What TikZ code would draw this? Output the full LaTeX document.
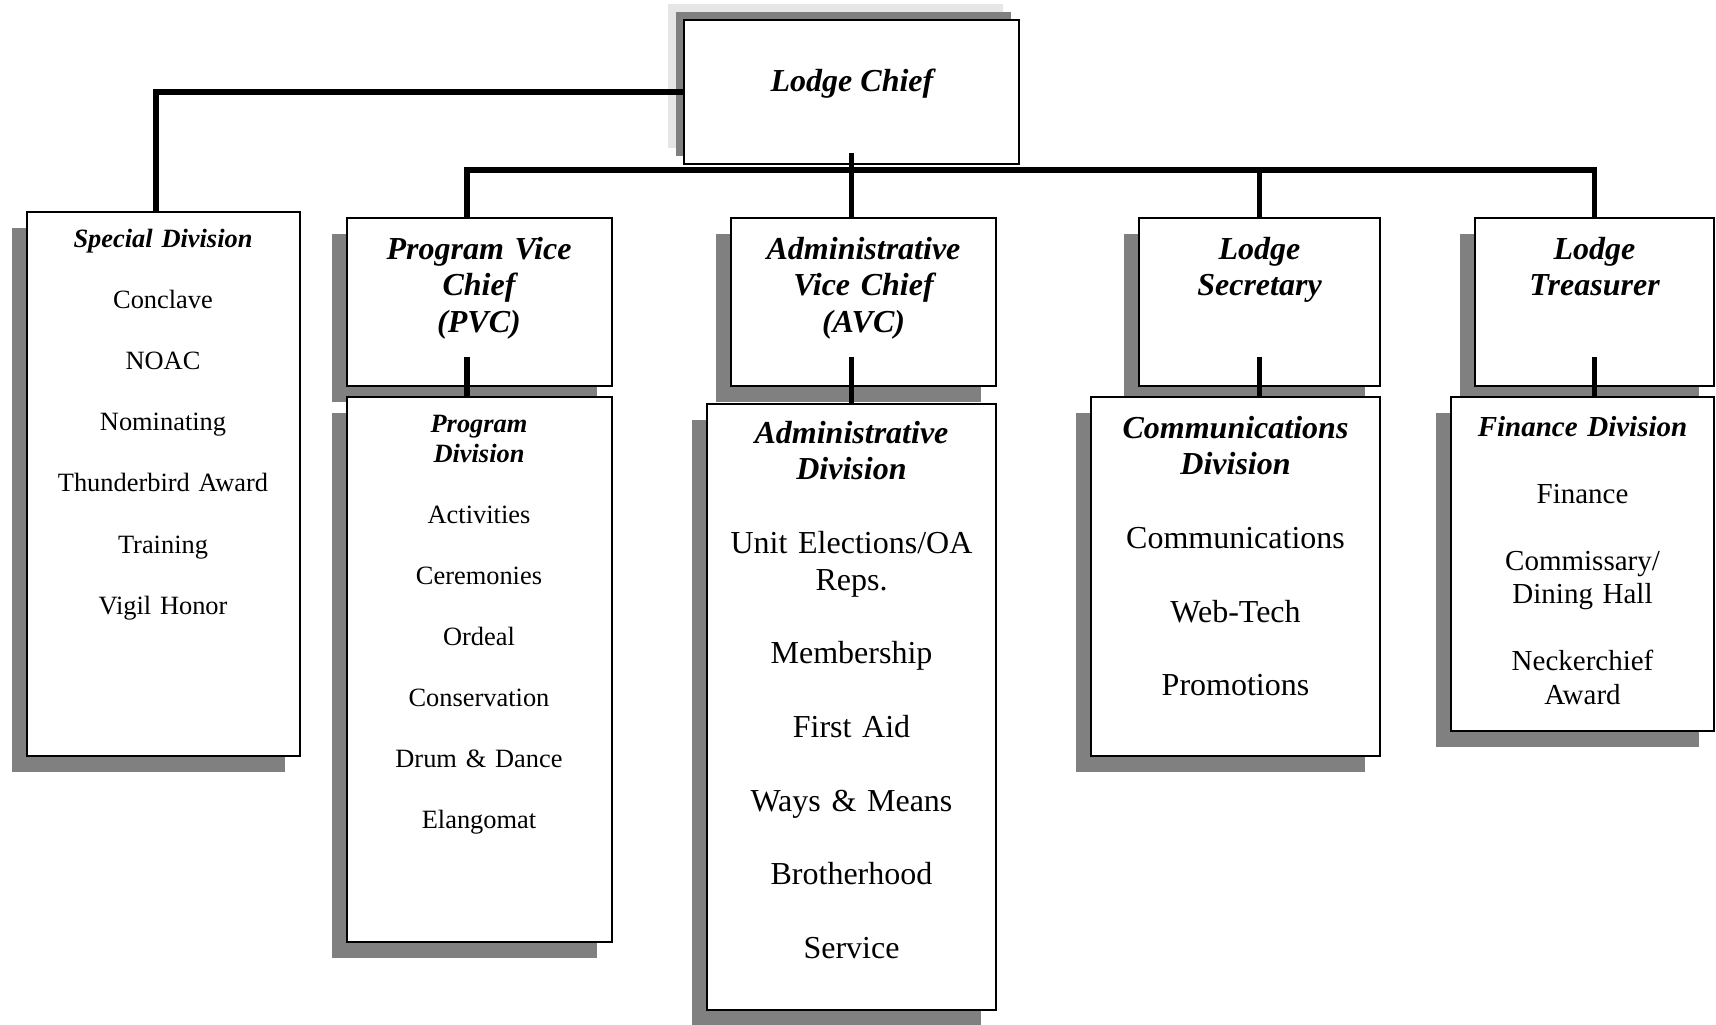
\documentclass[tikz,border=0pt]{standalone}
\usepackage{fontspec}
\setmainfont{Liberation Serif}
\usetikzlibrary{shadows,calc}
\definecolor{shadowgray}{HTML}{808080}
\definecolor{paleshadow}{HTML}{E6E6E6}
\begin{document}
\begin{tikzpicture}[x=0.5pt,y=-0.5pt,
  box/.style={draw=black, line width=1pt, fill=white, inner sep=0pt},
  sh/.style={drop shadow={shadow xshift=-7.75pt, shadow yshift=-7.75pt, opacity=1, fill=shadowgray}},
  conn/.style={line width=2.9pt, black, line join=miter},
  txt/.style={inner sep=0pt, anchor=base, align=center},
  officer/.style={txt, text width=125pt, font=\fontsize{16}{18.25}\selectfont\bfseries\itshape},
  small/.style={txt, text width=130pt, font=\fontsize{13.2}{15.3}\selectfont},
  big/.style={txt, text width=140pt, font=\fontsize{16}{18.4}\selectfont},
  mid/.style={txt, text width=128pt, font=\fontsize{14.5}{16.75}\selectfont},
]
\useasboundingbox (0,0) rectangle (1716,1024);

% Lodge Chief
\node[box,
  drop shadow={shadow xshift=-8pt, shadow yshift=8pt, opacity=1, fill=paleshadow},
  drop shadow={shadow xshift=-4pt, shadow yshift=4pt, opacity=1, fill=shadowgray},
  minimum width=167.5pt, minimum height=72pt] (chief) at (851.5,92) {};

% officers
\node[box, sh, minimum width=132.5pt, minimum height=84pt] (pvc) at (479.5,302) {};
\node[box, sh, minimum width=132.5pt, minimum height=84pt] (avc) at (863.5,302) {};
\node[box, sh, minimum width=120.5pt, minimum height=84pt] (sec) at (1259.5,302) {};
\node[box, sh, minimum width=119.5pt, minimum height=84pt] (trs) at (1594.5,302) {};

% divisions
\node[box, sh, minimum width=136.5pt, minimum height=272pt] (spec) at (163.5,484) {};
\node[box, sh, minimum width=132.5pt, minimum height=272.5pt] (prog) at (479.5,669.5) {};
\node[box, sh, minimum width=144.5pt, minimum height=303pt] (adm) at (851.5,707) {};
\node[box, sh, minimum width=144.5pt, minimum height=179.5pt] (com) at (1235.5,576.5) {};
\node[box, sh, minimum width=131.5pt, minimum height=167pt] (fin) at (1582.5,564) {};

% texts
\node[txt, font=\fontsize{16}{18.4}\selectfont\bfseries\itshape] (tchief) at (852,91) {Lodge Chief};
\node[officer] (tpvc) at (479,259) {Program Vice\\Chief\\(PVC)};
\node[officer] (tavc) at (863.5,259) {Administrative\\Vice Chief\\(AVC)};
\node[officer] (tsec) at (1259.5,259) {Lodge\\Secretary};
\node[officer] (ttrs) at (1594.5,259) {Lodge\\Treasurer};

\node[small] (tspec) at (163,247) {{\bfseries\itshape Special Division}\\[\baselineskip]
  Conclave\\[\baselineskip] NOAC\\[\baselineskip] Nominating\\[\baselineskip]
  Thunderbird Award\\[\baselineskip] Training\\[\baselineskip] Vigil Honor};
\node[small, font=\fontsize{13.2}{15.25}\selectfont] (tprog) at (479,432) {{\bfseries\itshape Program\\Division}\\[\baselineskip]
  Activities\\[\baselineskip] Ceremonies\\[\baselineskip] Ordeal\\[\baselineskip]
  Conservation\\[\baselineskip] Drum \& Dance\\[\baselineskip] Elangomat};
\node[big] (tadm) at (851.5,443) {{\bfseries\itshape Administrative\\Division}\\[\baselineskip]
  Unit Elections/OA\\Reps.\\[\baselineskip] Membership\\[\baselineskip] First Aid\\[\baselineskip]
  Ways \& Means\\[\baselineskip] Brotherhood\\[\baselineskip] Service};
\node[big] (tcom) at (1235.5,438) {{\bfseries\itshape Communications\\Division}\\[\baselineskip]
  Communications\\[\baselineskip] Web-Tech\\[\baselineskip] Promotions};
\node[mid] (tfin) at (1582.5,436) {{\bfseries\itshape Finance Division}\\[\baselineskip]
  Finance\\[\baselineskip] Commissary/\\Dining Hall\\[\baselineskip] Neckerchief\\Award};

% connectors
\coordinate (sjoin) at (156,92);
\coordinate (busL) at (467,170);
\draw[conn] (chief.west) -- (sjoin) -- (sjoin |- spec.north);
\draw[conn] (busL |- pvc.north) -- (busL) -- (busL -| trs.north) -- (trs.north);
\draw[conn] ($(chief.south)+(0,-12)$) -- (chief.south |- avc.north);
\draw[conn] (sec.north |- busL) -- (sec.north);
\draw[conn] ($(pvc.south -| busL)+(0,-30)$) -- (busL |- prog.north);
\draw[conn] ($(avc.south -| chief.south)+(0,-30)$) -- (chief.south |- adm.north);
\draw[conn] ($(sec.south)+(0,-30)$) -- (sec.south |- com.north);
\draw[conn] ($(trs.south)+(0,-30)$) -- (trs.south |- fin.north);
\end{tikzpicture}
\end{document}
